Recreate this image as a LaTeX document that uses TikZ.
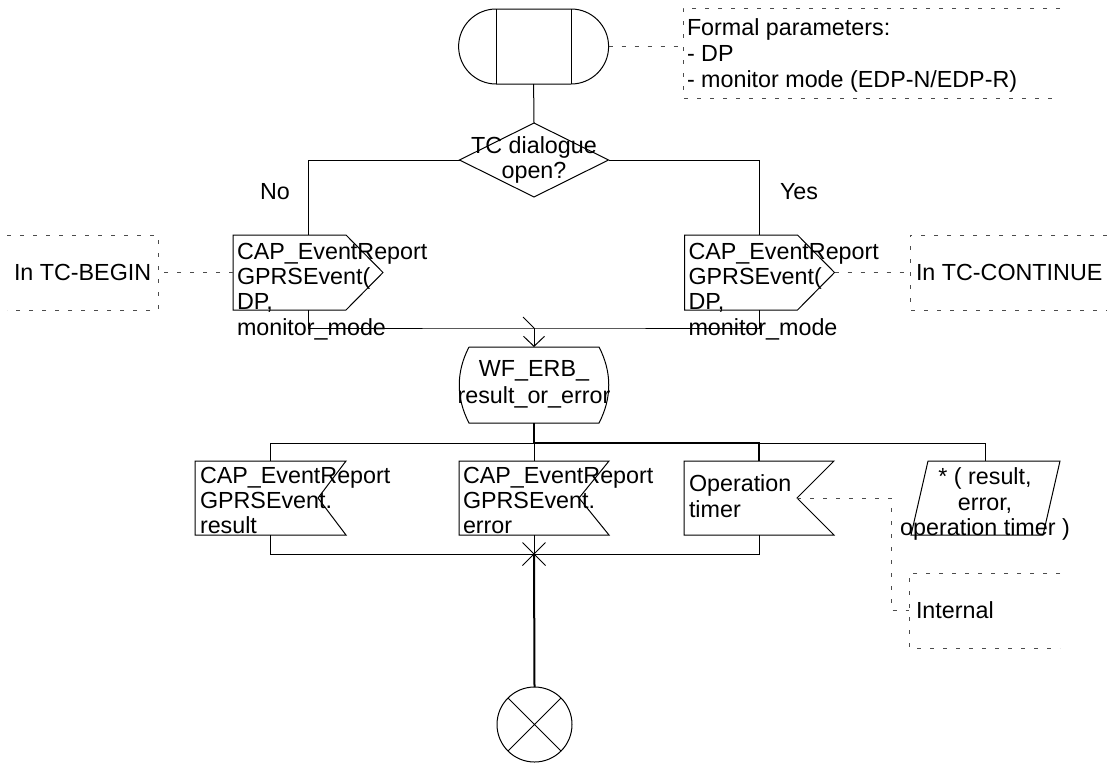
\documentclass[tikz,border=0pt]{standalone}
\usepackage{fontspec}
\setmainfont{Liberation Sans}
\usetikzlibrary{arrows.meta}

\begin{document}
\begin{tikzpicture}[x=1pt,y=-1pt,line width=1pt,
  every node/.style={font=\fontsize{23.3}{25.3}\selectfont,inner sep=0pt,outer sep=0pt},
  box/.style={minimum width=#1,minimum height=75pt},
  cmt/.style={black!70,line width=0.9pt,dash pattern=on 4pt off 9pt},
  heavy/.style={line width=2pt}]
\useasboundingbox (0,0) rectangle (1107,763);
% start and its parameters
\node[draw,rounded corners=37.5pt,box=150pt] (start) at (533.6,46.5) {};
\draw ([xshift=37.5pt]start.north west) -- ([xshift=37.5pt]start.south west) ([xshift=-37.5pt]start.north east) -- ([xshift=-37.5pt]start.south east);
\node[minimum width=377pt,minimum height=90pt] (c1) at (871.5,53) {};
\draw[cmt] (c1.north east) -- (c1.north west) -- (c1.south west) -- (c1.south east);
\node[anchor=north west,align=left,font=\fontsize{23.3}{26}\selectfont] (c1txt) at ([shift={(4,11)}]c1.north west) {Formal parameters:\\- DP\\- monitor mode (EDP-N/EDP-R)};
\draw[cmt] (start.east) -- (start.east -| c1.west);
% decision
\node[minimum width=149pt,minimum height=74pt,align=center] (dec) at (534,160) {TC dialogue\\open?};
\draw (dec.north) -- (dec.east) -- (dec.south) -- (dec.west) -- cycle;
\draw (start.south) -- (dec.north);
% outputs: no / yes
\node[box=150pt] (out1) at (308,272.5) {};
\node[box=150pt] (out2) at (759.5,272.5) {};
\draw (out1.north west) -- ([xshift=-37pt]out1.north east) -- (out1.east) -- ([xshift=-37pt]out1.south east) -- (out1.south west) -- cycle;
\draw (out2.north west) -- ([xshift=-37pt]out2.north east) -- (out2.east) -- ([xshift=-37pt]out2.south east) -- (out2.south west) -- cycle;
\node[anchor=north west,align=left] (out1txt) at ([shift={(4,8)}]out1.north west) {CAP\_EventReport\\GPRSEvent(\\DP,\\monitor\_mode};
\node[anchor=north west,align=left] (out2txt) at ([shift={(4,8)}]out2.north west) {CAP\_EventReport\\GPRSEvent(\\DP,\\monitor\_mode};
\draw (dec.west) -| (out1.north);
\draw (dec.east) -| (out2.north);
\node (no) at (275,192) {No};
\node (yes) at (799,192) {Yes};
\node[box=151pt] (c2) at (82.5,272.5) {};
\draw[cmt] (c2.north west) -- (c2.north east) -- (c2.south east) -- (c2.south west);
\node[anchor=west] (c2txt) at ([xshift=7pt]c2.west) {In TC-BEGIN};
\draw[cmt] (out1.west) -- (c2.east);
\node[box=197pt] (c3) at (1008.5,272.5) {};
\draw[cmt] (c3.north east) -- (c3.north west) -- (c3.south west) -- (c3.south east);
\node[anchor=west] (c3txt) at ([xshift=6pt]c3.west) {In TC-CONTINUE};
\draw[cmt] (out2.east) -- (c3.west);
% state
\coordinate (mrg) at (534,328);
\node[minimum width=130pt,minimum height=76pt] (st) at (534,385) {};
\draw (st.north west) -- (st.north east) .. controls +(13,25) and +(13,-25) .. (st.south east) -- (st.south west) .. controls +(-13,-25) and +(-13,25) .. (st.north west);
\node[align=center] (sttxt) at (534,384.5) {WF\_ERB\_\\[1.7pt]result\_or\_error};
\draw (out1.south) |- (mrg) -| (out2.south);
\draw[-{Straight Barb[length=10pt,width=21pt]}] (mrg) -- (st.north);
\draw (mrg) -- +(-11,-11);
% inputs
\coordinate (fork) at (534,443);
\node[minimum width=151pt,minimum height=74pt] (in1) at (270.5,498) {};
\node[minimum width=150pt,minimum height=74pt] (in2) at (534,498) {};
\node[minimum width=150pt,minimum height=74pt] (in3) at (759,498) {};
\node[minimum width=149pt,minimum height=74pt] (save) at (985.5,498) {};
\draw (in1.north west) -- (in1.north east) -- ([xshift=-28pt]in1.east) -- (in1.south east) -- (in1.south west) -- cycle;
\draw (in2.north west) -- (in2.north east) -- ([xshift=-30pt]in2.east) -- (in2.south east) -- (in2.south west) -- cycle;
\draw (in3.north west) -- (in3.north east) -- ([xshift=-37pt]in3.east) -- (in3.south east) -- (in3.south west) -- cycle;
\draw ([xshift=17pt]save.north west) -- (save.north east) -- ([xshift=-17pt]save.south east) -- (save.south west) -- cycle;
\node[anchor=north west,align=left] (in1txt) at ([shift={(5,6)}]in1.north west) {CAP\_EventReport\\GPRSEvent.\\result};
\node[anchor=north west,align=left] (in2txt) at ([shift={(4,6)}]in2.north west) {CAP\_EventReport\\GPRSEvent.\\error};
\node[anchor=north west,align=left] (in3txt) at ([shift={(5,14)}]in3.north west) {Operation\\timer};
\node[anchor=north,align=center] (savetxt) at (985,468) {* ( result,\\error,\\operation timer )};
\draw[heavy] (st.south) -- (fork);
\draw (in1.north) |- (fork) -- (in2.north);
\draw[heavy] (fork) -| (in3.north);
\draw (in3.north |- fork) -| (save.north);
\node[box=151pt] (c4) at (984.5,610.5) {};
\draw[cmt] (c4.north east) -- (c4.north west) -- (c4.south west) -- (c4.south east);
\node[anchor=west] (c4txt) at ([xshift=7pt]c4.west) {Internal};
\draw[cmt] ([xshift=-37pt]in3.east) -| ([xshift=-18pt]c4.west) -- (c4.west);
% join and stop
\coordinate (join) at (534,554);
\draw (in1.south) |- (join) -| (in3.south);
\draw (in2.south) -- (join);
\draw (join) +(-11.5,-11.5) -- +(11.5,11.5) (join) +(-11.5,11.5) -- +(11.5,-11.5);
\node[draw,circle,minimum size=75pt] (stop) at (534.5,724.5) {};
\draw[heavy] (join) -- (stop.north);
\draw (stop.north west) -- (stop.south east) (stop.north east) -- (stop.south west);
\end{tikzpicture}
\end{document}
